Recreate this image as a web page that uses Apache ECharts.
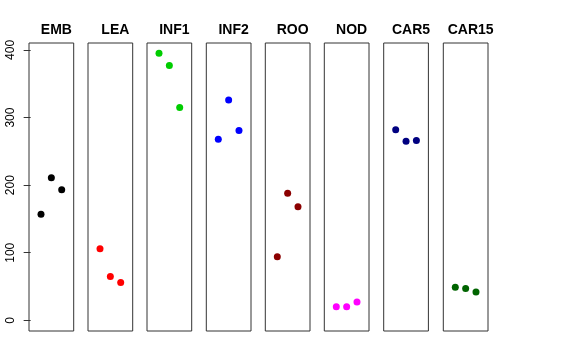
<!DOCTYPE html>
<html>
<head>
<meta charset="utf-8">
<script src="https://cdn.jsdelivr.net/npm/echarts@6/dist/echarts.min.js"></script>
<style>html,body{margin:0;padding:0;background:#fff}#c{width:576px;height:360px}</style>
</head>
<body>
<div id="c"></div>
<script>
var panels = ["EMB", "LEA", "INF1", "INF2", "ROO", "NOD", "CAR5", "CAR15"];
var xPositions = [1, 2, 3];
var EMB = [157, 211, 193];
var LEA = [106, 65, 56];
var INF1 = [395, 377, 315];
var INF2 = [268, 326, 281];
var ROO = [94, 188, 168];
var NOD = [20, 20, 27];
var CAR5 = [282, 265, 266];
var CAR15 = [49, 47, 42];
var seriesValues = [EMB, LEA, INF1, INF2, ROO, NOD, CAR5, CAR15];
var colors = ["#000000", "#FF0000", "#00CD00", "#0000FF", "#8B0000", "#FF00FF", "#000080", "#006400"];
var yTicks = [0, 100, 200, 300, 400];

(function () {
var lefts = [29, 88, 147, 206.3, 265.3, 324.3, 383.7, 443.3];
var pw = 44.7, gTop = 43, ph = 288;
var font = "'Liberation Sans', Arial, Helvetica, sans-serif";

var grid = [], xAxis = [], yAxis = [], series = [], title = [];
panels.forEach(function (p, i) {
  grid.push({left: lefts[i], top: gTop, width: pw, height: ph, show: true, borderColor: '#333', borderWidth: 1, backgroundColor: 'transparent'});
  xAxis.push({type: 'value', gridIndex: i, min: -0.16, max: 4.16, show: false});
  yAxis.push({
    type: 'value', gridIndex: i, min: -15.8, max: 410.3, show: i === 0,
    splitLine: {show: false},
    axisLine: {show: false},
    axisTick: {show: true, length: 7, customValues: yTicks, lineStyle: {color: '#333'}},
    axisLabel: {show: true, customValues: yTicks, rotate: 90, margin: 12, color: '#000', fontSize: 12, fontFamily: font}
  });
  series.push({
    type: 'scatter', xAxisIndex: i, yAxisIndex: i, symbolSize: 7,
    itemStyle: {color: colors[i], opacity: 1},
    data: seriesValues[i].map(function (v, j) { return [xPositions[j], v]; })
  });
  title.push({text: p, left: lefts[i] + pw / 2, top: 18, textAlign: 'center',
    textStyle: {fontSize: 14, fontWeight: 'bold', color: '#000', fontFamily: font}});
});

var chart = echarts.init(document.getElementById('c'), null, {renderer: 'canvas'});
chart.setOption({animation: false, title: title, grid: grid, xAxis: xAxis, yAxis: yAxis, series: series});
})();
</script>
</body>
</html>
